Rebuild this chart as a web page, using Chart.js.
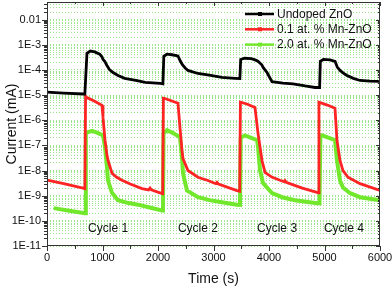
<!DOCTYPE html>
<html>
<head>
<meta charset="utf-8">
<script src="https://cdn.jsdelivr.net/npm/chart.js@4"></script>
<style>
  html, body { margin: 0; padding: 0; background: #fff; }
  #wrap { width: 392px; height: 293px; position: relative; }
</style>
</head>
<body>
<div id="wrap"><canvas id="chart"></canvas></div>
<script>
// Undoped ZnO — time (s) / current (mA)
const undopedTime = [0, 300, 660, 682, 720, 780, 860, 950, 990, 1010, 1040, 1080, 1130, 1190, 1280, 1400, 1600, 1770, 2040, 2088,
  2105, 2160, 2250, 2360, 2400, 2440, 2490, 2540, 2720, 2950, 3150, 3390, 3475,
  3490, 3560, 3680, 3750, 3800, 3870, 3900, 3964, 4054, 4250, 4432, 4650, 4829, 4912,
  4925, 4980, 5100, 5190, 5230, 5280, 5340, 5405, 5520, 5640, 5820, 6000];
const undopedCurrent = [1.3e-5, 1.2e-5, 1.1e-5, 1.1e-5, 4.6e-4, 5.6e-4, 5.2e-4, 4.2e-4, 3.3e-4, 2.6e-4, 2.2e-4, 1.5e-4, 1.0e-4, 7.9e-5, 6.0e-5, 4.6e-5, 3.8e-5, 3.2e-5, 2.9e-5, 2.8e-5,
  3.5e-4, 4.2e-4, 4.0e-4, 3.6e-4, 2.3e-4, 1.6e-4, 1.2e-4, 9.5e-5, 7.2e-5, 6.0e-5, 5.0e-5, 4.6e-5, 4.5e-5,
  2.6e-4, 2.9e-4, 2.8e-4, 2.5e-4, 2.2e-4, 1.6e-4, 1.2e-4, 7.9e-5, 3.4e-5, 3.0e-5, 2.8e-5, 2.3e-5, 2.0e-5, 2.0e-5,
  2.2e-4, 2.6e-4, 2.5e-4, 2.2e-4, 1.3e-4, 9.5e-5, 7.5e-5, 6.0e-5, 4.6e-5, 3.8e-5, 3.6e-5, 3.5e-5];

// 0.1 at. % Mn-ZnO
const mn01Time = [0, 300, 650, 682, 695, 721, 850, 991, 1009, 1045, 1081, 1100, 1171, 1250, 1351, 1500, 1712, 1830, 1856, 1880, 2036, 2085,
  2097, 2126, 2250, 2360, 2396, 2432, 2450, 2540, 2720, 2900, 3040, 3063, 3090, 3423, 3472,
  3485, 3600, 3748, 3802, 3874, 3928, 4050, 4198, 4270, 4288, 4310, 4600, 4865, 4886,
  4900, 5050, 5189, 5225, 5279, 5333, 5423, 5640, 6000];
const mn01Current = [4.2e-9, 3.0e-9, 2.0e-9, 1.9e-9, 9.0e-6, 8.0e-6, 5.8e-6, 3.9e-6, 1.3e-6, 1.6e-7, 4.0e-8, 2.5e-8, 7.8e-9, 5.5e-9, 4.1e-9, 2.9e-9, 1.9e-9, 1.7e-9, 2.0e-9, 1.7e-9, 1.3e-9, 1.2e-9,
  7.5e-6, 7.3e-6, 5.8e-6, 4.7e-6, 5.1e-7, 6.3e-8, 3.0e-8, 1.0e-8, 5.4e-9, 4.0e-9, 3.0e-9, 3.4e-9, 2.9e-9, 1.6e-9, 1.5e-9,
  5.2e-6, 4.4e-6, 3.2e-6, 3.0e-7, 2.5e-8, 8.5e-9, 5.5e-9, 4.1e-9, 3.6e-9, 4.0e-9, 3.4e-9, 2.0e-9, 1.35e-9, 1.3e-9,
  5.2e-6, 4.0e-6, 3.0e-6, 1.6e-7, 2.5e-8, 1.0e-8, 5.4e-9, 3.0e-9, 1.6e-9];

// 2.0 at. % Mn-ZnO
const mn20Time = [120, 400, 685, 700, 739, 811, 900, 1009, 1045, 1081, 1099, 1171, 1279, 1450, 1640, 1850, 2072, 2090,
  2100, 2162, 2280, 2396, 2432, 2450, 2522, 2720, 2950, 3153, 3423, 3477,
  3490, 3567, 3680, 3784, 3802, 3838, 3892, 4054, 4250, 4468, 4700, 4870, 4910,
  4925, 4955, 5080, 5189, 5225, 5279, 5333, 5450, 5640, 6000];
const mn20Current = [3.2e-10, 2.5e-10, 2.0e-10, 3.0e-7, 3.4e-7, 3.8e-7, 3.2e-7, 2.5e-7, 8.3e-8, 1.35e-8, 4.0e-9, 1.3e-9, 6.6e-10, 5.2e-10, 4.4e-10, 3.4e-10, 2.6e-10, 2.6e-10,
  3.0e-7, 4.0e-7, 3.0e-7, 2.1e-7, 3.3e-8, 7.8e-9, 1.6e-9, 8.7e-10, 6.5e-10, 5.5e-10, 4.4e-10, 4.3e-10,
  2.0e-7, 2.5e-7, 2.0e-7, 1.6e-7, 9.0e-8, 1.0e-8, 3.2e-9, 1.26e-9, 8.5e-10, 6.6e-10, 5.6e-10, 5.0e-10, 5.0e-10,
  2.2e-7, 2.5e-7, 2.0e-7, 1.6e-7, 2.5e-8, 4.0e-9, 2.1e-9, 1.3e-9, 8.7e-10, 6.6e-10];

const seriesLabels = ["Undoped ZnO", "0.1 at. % Mn-ZnO", "2.0 at. % Mn-ZnO"];
const seriesColors = ["#000000", "#ff2424", "#72e82c"];

const cycleLabels = ["Cycle 1", "Cycle 2", "Cycle 3", "Cycle 4"];
const cycleLabelTime = [1100, 2720, 4145, 5350];
const cycleLabelCurrent = 4.7e-11;

const xTickStep = 1000;
const yDecadeMin = -11;
const yDecadeMax = -2;

const FONT = "'Liberation Sans', Arial, sans-serif";

function pts(t, v) {
  return t.map((x, i) => ({ x: x, y: v[i] }));
}

// legend, cycle labels, frame and tick marks drawn over the plot
const overlay = {
  id: "overlay",
  afterDatasetsDraw(chart) {
    const ctx = chart.ctx;
    const a = chart.chartArea;
    const xs = chart.scales.x;
    const ys = chart.scales.y;
    ctx.save();

    // frame
    ctx.strokeStyle = "#333";
    ctx.lineWidth = 1;
    ctx.strokeRect(a.left + 0.5, a.top + 0.5, a.right - a.left - 1, a.bottom - a.top - 1);

    // x ticks (bottom outward, top inward)
    for (let t = 0; t <= 6000; t += 500) {
      const px = Math.round(xs.getPixelForValue(t)) + 0.5;
      const len = t % xTickStep === 0 ? 5 : 3;
      ctx.beginPath();
      ctx.moveTo(px, a.bottom);
      ctx.lineTo(px, a.bottom + len);
      ctx.moveTo(px, a.top);
      ctx.lineTo(px, a.top + len - 1);
      ctx.stroke();
    }
    // y ticks (left outward, right inward)
    ys.ticks.forEach((tk) => {
      const py = Math.round(ys.getPixelForValue(tk.value)) + 0.5;
      const major = tk.label !== "";
      const len = major ? 5 : 3;
      ctx.beginPath();
      ctx.moveTo(a.left - len, py);
      ctx.lineTo(a.left, py);
      ctx.moveTo(a.right - len + 1, py);
      ctx.lineTo(a.right, py);
      ctx.stroke();
    });

    // cycle labels
    ctx.fillStyle = "#111";
    ctx.font = "12px " + FONT;
    ctx.textAlign = "center";
    ctx.textBaseline = "middle";
    cycleLabels.forEach((lbl, i) => {
      ctx.fillText(lbl, xs.getPixelForValue(cycleLabelTime[i]), ys.getPixelForValue(cycleLabelCurrent));
    });

    // legend
    ctx.textAlign = "left";
    chart.data.datasets.forEach((ds, i) => {
      const y = 14 + i * 15.3;
      ctx.strokeStyle = ds.borderColor;
      ctx.lineWidth = 2.5;
      ctx.beginPath();
      ctx.moveTo(245, y);
      ctx.lineTo(274, y);
      ctx.stroke();
      ctx.fillStyle = ds.borderColor;
      ctx.fillRect(258, y - 2, 4, 4);
      ctx.fillStyle = "#111";
      ctx.fillText(ds.label, 277, y + 0.5);
    });
    ctx.restore();
  },
};

new Chart(document.getElementById("chart"), {
  type: "line",
  data: {
    datasets: [
      { label: seriesLabels[0], data: pts(undopedTime, undopedCurrent), borderColor: seriesColors[0], borderWidth: 2.8 },
      { label: seriesLabels[1], data: pts(mn01Time, mn01Current), borderColor: seriesColors[1], borderWidth: 2.8 },
      { label: seriesLabels[2], data: pts(mn20Time, mn20Current), borderColor: seriesColors[2], borderWidth: 4 },
    ],
  },
  options: {
    responsive: true,
    maintainAspectRatio: false,
    animation: false,
    devicePixelRatio: 1,
    layout: { padding: { top: 2, right: 12, left: 0, bottom: 0 } },
    elements: { point: { radius: 0 }, line: { tension: 0 } },
    plugins: { legend: { display: false }, tooltip: { enabled: false } },
    scales: {
      x: {
        type: "linear",
        min: 0,
        max: 6000,
        grid: { display: false, drawTicks: false },
        border: { display: false },
        ticks: {
          stepSize: xTickStep, padding: 5, maxRotation: 0, color: "#111",
          font: { family: FONT, size: 11 },
          callback: (v) => String(v),
        },
        title: { display: true, text: "Time (s)", color: "#111", font: { family: FONT, size: 14 }, padding: { top: 0, bottom: 5 } },
        afterFit: (s) => { s.height = 47; s.paddingLeft = 0; s.paddingRight = 0; },
      },
      y: {
        type: "logarithmic",
        min: 1e-11,
        max: 0.05,
        border: { display: false, dash: [1, 2] },
        grid: { color: "#9be58a", lineWidth: 1, drawTicks: false },
        afterBuildTicks: (s) => {
          const list = [];
          for (let e = yDecadeMin; e <= yDecadeMax; e++) {
            for (let m = 1; m <= 9; m++) {
              const v = m * Math.pow(10, e);
              if (v < 0.05) list.push({ value: v });
            }
          }
          s.ticks = list;
        },
        ticks: {
          autoSkip: false,
          padding: 6,
          color: "#111",
          font: { family: FONT, size: 11 },
          callback: (v) => {
            const e = Math.round(Math.log10(v));
            if (Math.abs(Math.log10(v) - e) > 1e-6) return "";
            return e === -2 ? "0.01" : "1E" + e;
          },
        },
        title: { display: true, text: "Current (mA)", color: "#111", font: { family: FONT, size: 14 }, padding: { top: 4, bottom: 0 } },
        afterFit: (s) => { s.width = 47; s.paddingTop = 0; s.paddingBottom = 0; },
      },
    },
  },
  plugins: [overlay],
});
</script>
</body>
</html>
